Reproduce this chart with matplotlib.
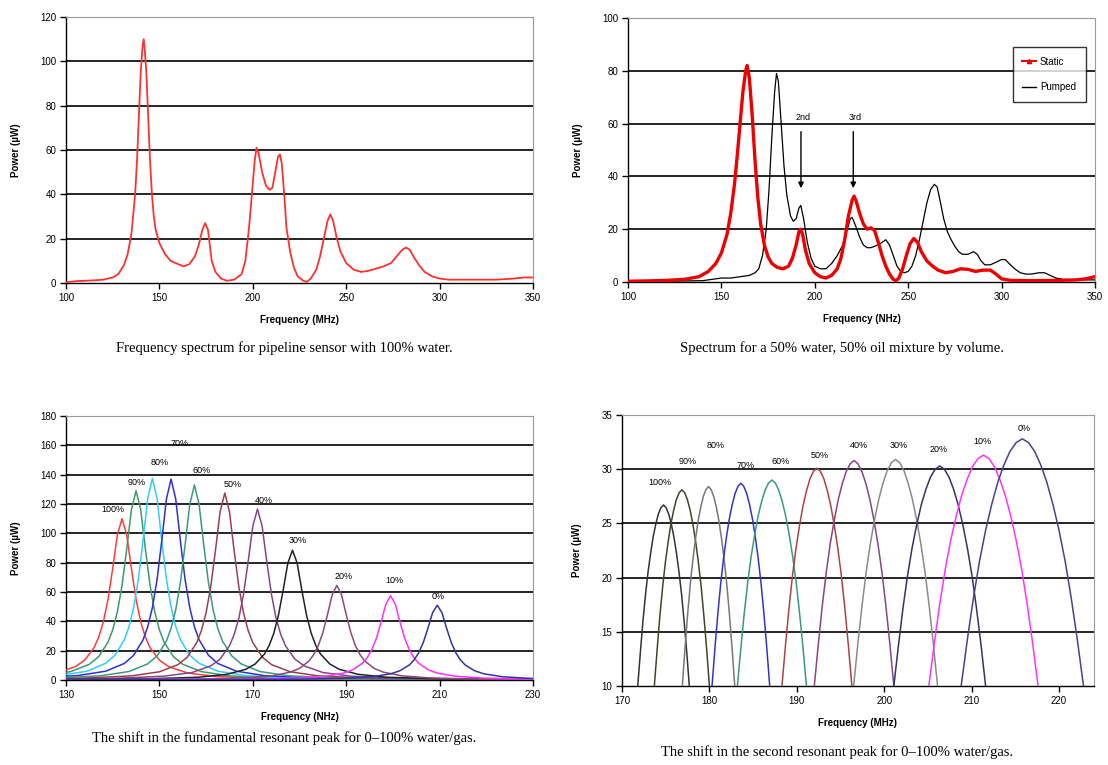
import matplotlib
matplotlib.use("Agg")
import matplotlib.pyplot as plt
from matplotlib.lines import Line2D

plt.rcParams['font.family'] = ['Liberation Sans', 'DejaVu Sans']

# ---------------- Panel 1: 100% water spectrum ----------------
p1_freq = [100, 105, 110, 115, 120, 125, 128, 131, 133, 135, 137, 138, 139, 140, 141, 141.6, 142, 143, 144, 145,
           146, 147, 148, 150, 153, 156, 160, 163, 166, 169, 171, 173, 174.5, 176, 177, 178, 180, 183, 186, 190,
           194, 196, 198, 200, 201, 202, 203, 205, 207, 209, 210.5, 212, 213.5, 214.5, 215.5, 217, 218, 220, 222,
           224, 227, 229, 231, 234, 236, 238, 240, 241.5, 243, 245, 247, 250, 254, 258, 262, 266, 270, 274, 277,
           280, 282, 284, 286, 289, 292, 296, 300, 305, 310, 320, 330, 340, 345, 350]
p1_power = [0.3, 0.8, 1, 1.2, 1.5, 2.5, 4, 8, 13, 22, 40, 55, 75, 95, 107, 110, 107, 95, 75, 55,
            40, 30, 24, 18, 13, 10, 8.5, 7.5, 8.5, 12, 17, 24, 27, 24, 17, 10, 5, 2, 1, 1.5,
            4, 10, 25, 45, 55, 61, 59, 50, 44, 42, 43, 50, 57, 58, 54, 38, 25, 14, 7,
            3, 1, 0.5, 2, 6, 12, 20, 28, 31, 28, 20, 14, 9, 6, 5, 5.5, 6.5, 7.5, 9, 12,
            15, 16, 15, 12, 8, 5, 3, 2, 1.5, 1.5, 1.5, 1.5, 2, 2.5, 2.5]

# ---------------- Panel 2: 50% water / 50% oil ----------------
p2_static_freq = [100, 110, 120, 130, 138, 143, 147, 150, 153, 155, 157, 158.5, 160, 161.5, 163, 163.8, 165, 166.5,
                  168, 169.5, 171, 173, 175, 177, 180, 183, 186, 188, 190, 191.5, 192.5, 193.5, 195, 197, 200, 203,
                  206, 209, 212, 214, 216, 218, 220, 221, 222, 224, 226, 228, 230, 232, 234, 236, 238, 240, 242,
                  243.5, 245, 247, 249, 251, 253, 255, 257, 260, 263, 266, 270, 274, 278, 282, 286, 290, 294, 297,
                  300, 305, 315, 330, 340, 345, 350]
p2_static_power = [0.3, 0.4, 0.6, 1, 2, 4, 7, 11, 18, 26, 37, 48, 60, 72, 80, 82, 77, 63,
                   46, 32, 22, 14, 9.5, 7, 5.5, 5, 6, 9, 14, 19, 20, 18, 12, 7, 3.5, 2,
                   1.5, 2.5, 5, 9, 16, 25, 31, 32.5, 31, 26, 22, 20, 20.5, 19.5, 15, 10, 6, 3, 1,
                   0.5, 1.5, 5, 10, 14.5, 16.5, 15, 11.5, 8, 6, 4.5, 3.5, 4, 5, 4.8, 4, 4.5, 4.5, 3,
                   1.2, 0.6, 0.5, 0.6, 0.8, 1.2, 2]
p2_pumped_freq = [100, 120, 140, 145, 150, 155, 160, 165, 168, 170, 172, 174, 175.5, 177, 178.5, 179.5, 180.5, 182,
                  183.5, 185, 187, 188.5, 190, 191.5, 192.5, 194, 196, 198, 200, 203, 206, 209, 212, 215, 217, 219,
                  220, 222, 224, 226, 228, 230, 232, 235, 238, 240, 242, 244, 246, 248, 250, 252, 254, 256, 258,
                  260, 262, 264, 265.5, 267, 269, 271, 273, 275, 277, 279, 282, 285, 287, 289, 291, 294, 297, 300,
                  302, 304, 307, 310, 313, 316, 320, 323, 326, 329, 333, 340, 350]
p2_pumped_power = [0.2, 0.3, 0.5, 1, 1.5, 1.5, 2, 2.5, 3.5, 5, 10, 20, 35, 55, 72, 79, 76, 60,
                   44, 33, 25, 23, 24, 28, 29, 24, 15, 9, 6, 5, 5, 7, 10, 14, 19, 24,
                   24.5, 21, 17, 14, 13, 13, 13.5, 14.5, 16, 14, 10, 6, 4, 3.5, 4, 6, 10, 16, 23,
                   30, 35, 37, 36, 31, 24, 19, 16, 13.5, 11.5, 10.5, 10.5, 11.5, 10.5, 8, 6.5, 6.5, 7.5, 8.5,
                   8.5, 7, 5, 3.5, 3, 3, 3.5, 3.5, 2.5, 1.5, 1, 0.8, 0.8]

# ---------------- Panel 3: fundamental peak shift ----------------
p3_labels = ["100%", "90%", "80%", "70%", "60%", "50%", "40%", "30%", "20%", "10%", "0%"]
p3_colors = ["#ff3b3b", "#3c9a6a", "#33ccff", "#3030d0", "#3a9a80", "#994050",
             "#884488", "#222222", "#8a4a7a", "#ff30ff", "#333399"]
p3_f100 = [112, 122, 128, 132, 134, 136, 137, 138, 139, 140, 141, 142, 143, 144, 145, 146, 147, 148, 150, 152, 156, 162, 172, 200, 234]
p3_p100 = [1.1, 2.4, 4.8, 9.1, 13.5, 22, 29.2, 39.6, 55, 76.1, 99, 110, 99, 76.1, 55, 39.6, 29.2, 22, 13.5, 9.1, 4.8, 2.4, 1.1, 0.3, 0.1]
p3_f90 = [115, 125, 131, 135, 137, 139, 140, 141, 142, 143, 144, 145, 146, 147, 148, 149, 150, 151, 153, 155, 159, 165, 175, 205, 234]
p3_p90 = [1.3, 2.8, 5.7, 10.7, 15.9, 25.8, 34.2, 46.4, 64.5, 89.3, 116.1, 129, 116.1, 89.3, 64.5, 46.4, 34.2, 25.8, 15.9, 10.7, 5.7, 2.8, 1.3, 0.32, 0.15]
p3_f80 = [118.5, 128.5, 134.5, 138.5, 140.5, 142.5, 143.5, 144.5, 145.5, 146.5, 147.5, 148.5, 149.5, 150.5, 151.5, 152.5, 153.5, 154.5, 156.5, 158.5, 162.5, 168.5, 178.5, 208.5, 234]
p3_p80 = [1.4, 3.0, 6.0, 11.4, 16.9, 27.5, 36.4, 49.5, 68.8, 95.2, 123.8, 137.5, 123.8, 95.2, 68.8, 49.5, 36.4, 27.5, 16.9, 11.4, 6.0, 3.0, 1.4, 0.34, 0.17]
p3_f70 = [122.5, 132.5, 138.5, 142.5, 144.5, 146.5, 147.5, 148.5, 149.5, 150.5, 151.5, 152.5, 153.5, 154.5, 155.5, 156.5, 157.5, 158.5, 160.5, 162.5, 166.5, 172.5, 182.5, 212.5, 234]
p3_p70 = [1.4, 3.0, 6.0, 11.3, 16.9, 27.4, 36.3, 49.3, 68.5, 94.8, 123.3, 137, 123.3, 94.8, 68.5, 49.3, 36.3, 27.4, 16.9, 11.3, 6.0, 3.0, 1.4, 0.34, 0.19]
p3_f60 = [127.5, 137.5, 143.5, 147.5, 149.5, 151.5, 152.5, 153.5, 154.5, 155.5, 156.5, 157.5, 158.5, 159.5, 160.5, 161.5, 162.5, 163.5, 165.5, 167.5, 171.5, 177.5, 187.5, 217.5, 234]
p3_p60 = [1.3, 2.9, 5.8, 11.0, 16.4, 26.6, 35.2, 47.9, 66.5, 92.0, 119.7, 133, 119.7, 92.0, 66.5, 47.9, 35.2, 26.6, 16.4, 11.0, 5.8, 2.9, 1.3, 0.33, 0.2]
p3_f50 = [126, 134, 144, 150, 154, 156, 158, 159, 160, 161, 162, 163, 164, 165, 166, 167, 168, 169, 170, 172, 174, 178, 184, 194, 224, 234]
p3_p50 = [0.79, 1.3, 2.8, 5.6, 10.5, 15.7, 25.5, 33.8, 45.9, 63.8, 88.2, 114.8, 127.5, 114.8, 88.2, 63.8, 45.9, 33.8, 25.5, 15.7, 10.5, 5.6, 2.8, 1.3, 0.32, 0.23]
p3_f40 = [126, 141, 151, 157, 161, 163, 165, 166, 167, 168, 169, 170, 171, 172, 173, 174, 175, 176, 177, 179, 181, 185, 191, 201, 234]
p3_p40 = [0.52, 1.2, 2.6, 5.1, 9.6, 14.3, 23.3, 30.9, 41.9, 58.3, 80.6, 104.9, 116.5, 104.9, 80.6, 58.3, 41.9, 30.9, 23.3, 14.3, 9.6, 5.1, 2.6, 1.2, 0.26]
p3_f30 = [126, 148.5, 158.5, 164.5, 168.5, 170.5, 172.5, 173.5, 174.5, 175.5, 176.5, 177.5, 178.5, 179.5, 180.5, 181.5, 182.5, 183.5, 184.5, 186.5, 188.5, 192.5, 198.5, 208.5, 234]
p3_p30 = [0.29, 0.9, 1.9, 3.9, 7.3, 10.9, 17.7, 23.5, 31.9, 44.3, 61.2, 79.7, 88.5, 79.7, 61.2, 44.3, 31.9, 23.5, 17.7, 10.9, 7.3, 3.9, 1.9, 0.9, 0.26]
p3_f20 = [126, 158, 168, 174, 178, 180, 182, 183, 184, 185, 186, 187, 188, 189, 190, 191, 192, 193, 194, 196, 198, 202, 208, 218, 234]
p3_p20 = [0.15, 0.6, 1.4, 2.8, 5.3, 7.9, 12.9, 17.1, 23.2, 32.3, 44.6, 58.1, 64.5, 58.1, 44.6, 32.3, 23.2, 17.1, 12.9, 7.9, 5.3, 2.8, 1.4, 0.6, 0.27]
p3_f10 = [126, 169.5, 179.5, 185.5, 189.5, 191.5, 193.5, 194.5, 195.5, 196.5, 197.5, 198.5, 199.5, 200.5, 201.5, 202.5, 203.5, 204.5, 205.5, 207.5, 209.5, 213.5, 219.5, 229.5, 234]
p3_p10 = [0.1, 0.6, 1.3, 2.5, 4.7, 7.1, 11.5, 15.2, 20.7, 28.8, 39.8, 51.8, 57.5, 51.8, 39.8, 28.8, 20.7, 15.2, 11.5, 7.1, 4.7, 2.5, 1.3, 0.6, 0.43]
p3_f0 = [126, 179.5, 189.5, 195.5, 199.5, 201.5, 203.5, 204.5, 205.5, 206.5, 207.5, 208.5, 209.5, 210.5, 211.5, 212.5, 213.5, 214.5, 215.5, 217.5, 219.5, 223.5, 229.5, 239.5]
p3_p0 = [0.07, 0.5, 1.1, 2.2, 4.2, 6.3, 10.2, 13.5, 18.4, 25.5, 35.3, 45.9, 51, 45.9, 35.3, 25.5, 18.4, 13.5, 10.2, 6.3, 4.2, 2.2, 1.1, 0.5]
p3_label_x = [140, 145.1, 150, 154.3, 159.1, 165.8, 172.3, 179.6, 189.5, 200.3, 209.8]
p3_label_y = [116, 134.5, 148, 161, 142.5, 133, 122.7, 95, 70.5, 68, 57]

# ---------------- Panel 4: second peak shift ----------------
p4_labels = ["100%", "90%", "80%", "70%", "60%", "50%", "40%", "30%", "20%", "10%", "0%"]
p4_colors = ["#333333", "#44442a", "#777777", "#3333cc", "#3a9a80", "#aa4444",
             "#884488", "#8a8a8a", "#333366", "#ff33ff", "#444488"]
p4_f100 = [171.5, 171.8, 172.1, 172.39, 172.69, 172.98, 173.28, 173.57, 173.87, 174.16, 174.46, 174.75,
           175.05, 175.34, 175.64, 175.93, 176.23, 176.52, 176.82, 177.11, 177.41, 177.7, 178.0]
p4_p100 = [6.66, 10, 13.09, 15.93, 18.43, 20.52, 22.27, 23.78, 24.95, 25.87, 26.45, 26.7,
           26.45, 25.87, 24.95, 23.78, 22.27, 20.52, 18.43, 15.93, 13.09, 10, 6.66]
p4_f90 = [173.39, 173.7, 174.02, 174.33, 174.65, 174.96, 175.28, 175.59, 175.91, 176.22, 176.54, 176.85,
          177.17, 177.48, 177.8, 178.11, 178.43, 178.74, 179.06, 179.37, 179.69, 180.0, 180.32]
p4_p90 = [6.38, 10, 13.35, 16.43, 19.14, 21.4, 23.3, 24.93, 26.2, 27.2, 27.83, 28.1,
          27.83, 27.2, 26.2, 24.93, 23.3, 21.4, 19.14, 16.43, 13.35, 10, 6.38]
p4_f80 = [176.6, 176.9, 177.2, 177.5, 177.8, 178.1, 178.4, 178.7, 179.0, 179.3, 179.6, 179.9,
          180.2, 180.5, 180.8, 181.1, 181.4, 181.7, 182.0, 182.3, 182.6, 182.9, 183.2]
p4_p80 = [6.32, 10, 13.4, 16.53, 19.29, 21.59, 23.52, 25.18, 26.47, 27.48, 28.12, 28.4,
          28.12, 27.48, 26.47, 25.18, 23.52, 21.59, 19.29, 16.53, 13.4, 10, 6.32]
p4_f70 = [179.97, 180.3, 180.63, 180.96, 181.29, 181.62, 181.95, 182.28, 182.61, 182.94, 183.27, 183.6,
          183.93, 184.26, 184.59, 184.92, 185.25, 185.58, 185.91, 186.24, 186.57, 186.9, 187.23]
p4_p70 = [6.26, 10, 13.46, 16.64, 19.44, 21.78, 23.74, 25.43, 26.74, 27.77, 28.42, 28.7,
          28.42, 27.77, 26.74, 25.43, 23.74, 21.78, 19.44, 16.64, 13.46, 10, 6.26]
p4_f60 = [182.81, 183.2, 183.6, 183.99, 184.39, 184.78, 185.18, 185.57, 185.97, 186.36, 186.76, 187.15,
          187.55, 187.94, 188.34, 188.73, 189.13, 189.52, 189.92, 190.31, 190.71, 191.1, 191.5]
p4_p60 = [6.2, 10, 13.52, 16.75, 19.6, 21.97, 23.97, 25.68, 27.0, 28.05, 28.72, 29.0,
          28.72, 28.05, 27.0, 25.68, 23.97, 21.97, 19.6, 16.75, 13.52, 10, 6.2]
p4_f50 = [187.9, 188.3, 188.7, 189.1, 189.5, 189.9, 190.3, 190.7, 191.1, 191.5, 191.9, 192.3,
          192.7, 193.1, 193.5, 193.9, 194.3, 194.7, 195.1, 195.5, 195.9, 196.3, 196.7]
p4_p50 = [5.98, 10, 13.72, 17.14, 20.15, 22.66, 24.77, 26.58, 27.99, 29.1, 29.8, 30.1,
          29.8, 29.1, 27.99, 26.58, 24.77, 22.66, 20.15, 17.14, 13.72, 10, 5.98]
p4_f40 = [191.55, 192.0, 192.46, 192.91, 193.37, 193.82, 194.28, 194.73, 195.19, 195.64, 196.1, 196.55,
          197.0, 197.46, 197.92, 198.37, 198.83, 199.28, 199.74, 200.19, 200.65, 201.1, 201.56]
p4_p40 = [5.84, 10, 13.85, 17.38, 20.5, 23.1, 25.29, 27.16, 28.62, 29.76, 30.49, 30.8,
          30.49, 29.76, 28.62, 27.16, 25.29, 23.1, 20.5, 17.38, 13.85, 10, 5.84]
p4_f30 = [196.02, 196.5, 196.98, 197.46, 197.94, 198.42, 198.9, 199.38, 199.86, 200.34, 200.82, 201.3,
          201.78, 202.26, 202.74, 203.22, 203.7, 204.18, 204.66, 205.14, 205.62, 206.1, 206.58]
p4_p30 = [5.82, 10, 13.87, 17.42, 20.55, 23.17, 25.36, 27.24, 28.71, 29.86, 30.59, 30.9,
          30.59, 29.86, 28.71, 27.24, 25.36, 23.17, 20.55, 17.42, 13.87, 10, 5.82]
p4_f20 = [200.58, 201.1, 201.63, 202.15, 202.68, 203.2, 203.73, 204.25, 204.78, 205.3, 205.83, 206.35,
          206.88, 207.4, 207.93, 208.45, 208.98, 209.5, 210.03, 210.55, 211.08, 211.6, 212.13]
p4_p20 = [5.94, 10, 13.76, 17.21, 20.25, 22.79, 24.92, 26.75, 28.17, 29.29, 30.0, 30.3,
          30.0, 29.29, 28.17, 26.75, 24.92, 22.79, 20.25, 17.21, 13.76, 10, 5.94]
p4_f10 = [204.48, 205.1, 205.73, 206.35, 206.98, 207.6, 208.23, 208.85, 209.48, 210.1, 210.73, 211.35,
          211.98, 212.6, 213.23, 213.85, 214.48, 215.1, 215.73, 216.35, 216.98, 217.6, 218.23]
p4_p10 = [5.74, 10, 13.94, 17.56, 20.76, 23.42, 25.66, 27.57, 29.06, 30.24, 30.98, 31.3,
          30.98, 30.24, 29.06, 27.57, 25.66, 23.42, 20.76, 17.56, 13.94, 10, 5.74]
p4_f0 = [208.1, 208.8, 209.5, 210.2, 210.9, 211.6, 212.3, 213.0, 213.7, 214.4, 215.1, 215.8,
         216.5, 217.2, 217.9, 218.6, 219.3, 220.0, 220.7, 221.4, 222.1, 222.8, 223.5]
p4_p0 = [5.44, 10, 14.22, 18.09, 21.51, 24.36, 26.76, 28.81, 30.41, 31.66, 32.46, 32.8,
         32.46, 31.66, 30.41, 28.81, 26.76, 24.36, 21.51, 18.09, 14.22, 10, 5.44]
p4_label_x = [174.3, 177.5, 180.7, 184.1, 188.1, 192.6, 197.1, 201.7, 206.2, 211.2, 216.0]
p4_label_y = [28.8, 30.7, 32.2, 30.3, 30.7, 31.3, 32.2, 32.2, 31.8, 32.6, 33.8]

captions = ["Frequency spectrum for pipeline sensor with 100% water.",
            "Spectrum for a 50% water, 50% oil mixture by volume.",
            "The shift in the fundamental resonant peak for 0\u2013100% water/gas.",
            "The shift in the second resonant peak for 0\u2013100% water/gas."]

# ---------------- figure ----------------
W, H = 1108, 765
fig = plt.figure(figsize=(W / 100, H / 100), dpi=100)
fig.patch.set_facecolor('white')


def make_ax(l, r, t, b):
    return fig.add_axes([l / W, 1 - b / H, (r - l) / W, (b - t) / H])


def style(ax, xlim, ylim, xticks, yticks, xlabel):
    ax.set_xlim(*xlim)
    ax.set_ylim(*ylim)
    ax.set_xticks(xticks)
    ax.set_yticks(yticks)
    for yv in yticks[1:]:
        if yv < ylim[1]:
            ax.axhline(yv, color='black', lw=1.2, zorder=1)
    for s in ['top', 'right']:
        ax.spines[s].set_color('#9a9a9a')
        ax.spines[s].set_linewidth(0.8)
    for s in ['left', 'bottom']:
        ax.spines[s].set_color('black')
        ax.spines[s].set_linewidth(1.0)
    ax.tick_params(direction='out', length=4, width=1, labelsize=7, colors='black', pad=3)
    ax.set_xlabel(xlabel, fontsize=7, fontweight='bold', labelpad=9)
    ax.set_ylabel('Power (\u00b5W)', fontsize=7, fontweight='bold', labelpad=14)


# Panel 1
ax1 = make_ax(66, 533, 17, 283)
ax1.plot(p1_freq, p1_power, color='#ff3030', lw=1.3, zorder=3)
style(ax1, (100, 350), (0, 120), [100, 150, 200, 250, 300, 350], [0, 20, 40, 60, 80, 100, 120],
      'Frequency (MHz)')

# Panel 2
ax2 = make_ax(628, 1095, 18, 282)
ax2.plot(p2_pumped_freq, p2_pumped_power, color='black', lw=0.9, zorder=3)
ax2.plot(p2_static_freq, p2_static_power, color='#ee0000', lw=2.4, zorder=4)
style(ax2, (100, 350), (0, 100), [100, 150, 200, 250, 300, 350], [0, 20, 40, 60, 80, 100],
      'Frequency (NHz)')
for xa, txt in [(192.6, '2nd'), (220.6, '3rd')]:
    ax2.annotate('', xy=(xa, 34.5), xytext=(xa, 58),
                 arrowprops=dict(arrowstyle='-|>', color='black', lw=1.0, mutation_scale=8), zorder=6)
    ax2.text(xa + 1, 62.5, txt, fontsize=6.5, ha='center', va='center')
handles = [Line2D([], [], color='#ee0000', lw=1.5, marker='^', markersize=3),
           Line2D([], [], color='black', lw=1.0)]
leg = ax2.legend(handles, ['Static', 'Pumped'], loc='upper right', bbox_to_anchor=(0.98, 0.89),
                 fontsize=7, frameon=True, fancybox=False, handlelength=1.4, handletextpad=0.4,
                 borderpad=1.0, labelspacing=1.6, borderaxespad=0)
leg.get_frame().set_edgecolor('black')
leg.get_frame().set_linewidth(1.0)

# Panel 3
ax3 = make_ax(66, 533, 416, 680)
p3_f = [p3_f100, p3_f90, p3_f80, p3_f70, p3_f60, p3_f50, p3_f40, p3_f30, p3_f20, p3_f10, p3_f0]
p3_p = [p3_p100, p3_p90, p3_p80, p3_p70, p3_p60, p3_p50, p3_p40, p3_p30, p3_p20, p3_p10, p3_p0]
for fx, py, c in zip(p3_f, p3_p, p3_colors):
    ax3.plot(fx, py, color=c, lw=1.1, zorder=3)
for lx, ly, lab in zip(p3_label_x, p3_label_y, p3_labels):
    ax3.text(lx, ly, lab, fontsize=6.5, ha='center', va='center', zorder=5)
style(ax3, (130, 230), (0, 180), [130, 150, 170, 190, 210, 230], list(range(0, 181, 20)),
      'Frequency (NHz)')

# Panel 4
ax4 = make_ax(622, 1094, 415, 686)
p4_f = [p4_f100, p4_f90, p4_f80, p4_f70, p4_f60, p4_f50, p4_f40, p4_f30, p4_f20, p4_f10, p4_f0]
p4_p = [p4_p100, p4_p90, p4_p80, p4_p70, p4_p60, p4_p50, p4_p40, p4_p30, p4_p20, p4_p10, p4_p0]
for fx, py, c in zip(p4_f, p4_p, p4_colors):
    ax4.plot(fx, py, color=c, lw=1.1, zorder=3)
for lx, ly, lab in zip(p4_label_x, p4_label_y, p4_labels):
    ax4.text(lx, ly, lab, fontsize=6.5, ha='center', va='center', zorder=5)
style(ax4, (170, 224), (10, 35), [170, 180, 190, 200, 210, 220], [10, 15, 20, 25, 30, 35],
      'Frequency (MHz)')

# Captions
cap_pos = [(284, 348), (842, 348), (284, 738), (837, 752)]
for (cx, cy), txt in zip(cap_pos, captions):
    fig.text(cx / W, 1 - cy / H, txt, fontsize=10.5, family=['Liberation Serif', 'DejaVu Serif'],
             ha='center', va='center')

fig.savefig('out.png', dpi=100)
